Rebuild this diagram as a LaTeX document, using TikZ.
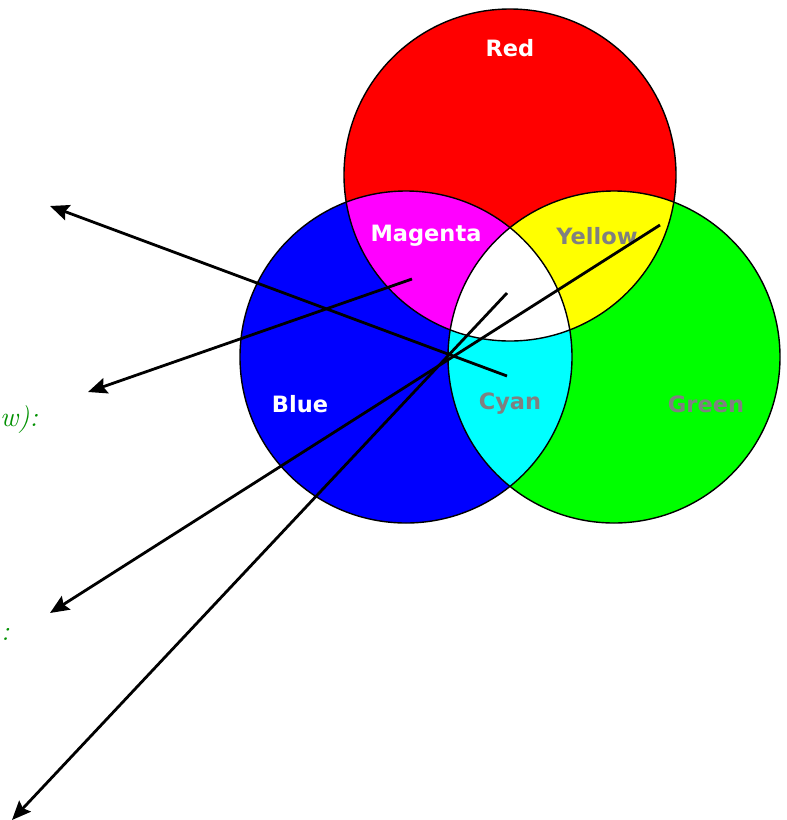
\documentclass[tikz,border=0pt]{standalone}
\usepackage{fontspec}
\newfontfamily\lbl{DejaVu Sans}
\usetikzlibrary{arrows.meta}
\definecolor{lblgray}{HTML}{808080}
\definecolor{cred}{HTML}{FF0000}
\definecolor{cblue}{HTML}{0000FF}
\definecolor{cgreen}{HTML}{00FF00}
\definecolor{cmag}{HTML}{FF00FF}
\definecolor{cyel}{HTML}{FFFF00}
\definecolor{ccya}{HTML}{00FFFF}
\definecolor{txtgreen}{HTML}{009000}
\tikzset{
  lab/.style={font=\lbl\bfseries\fontsize{22.5}{22.5}\selectfont, inner sep=0pt, anchor=center},
  ptr/.style={line width=2.8pt, -{Stealth[length=19pt,width=16pt,inset=3pt]}},
  cut/.style={font=\itshape\fontsize{28}{28}\selectfont, text=txtgreen, inner sep=0pt, anchor=base west},
  rim/.style={draw=black, line width=1.4pt}
}
\begin{document}
\begin{tikzpicture}[x=1pt,y=-1pt]
\useasboundingbox (0,0) rectangle (787,820);
\def\R{166}
\coordinate (cr) at (510,175);
\coordinate (cb) at (406,357);
\coordinate (cg) at (614,357);
% fills
\fill[cred] (cr) circle (\R);
\fill[cblue] (cb) circle (\R);
\fill[cgreen] (cg) circle (\R);
\begin{scope}\clip (cr) circle (\R); \fill[cmag] (cb) circle (\R); \end{scope}
\begin{scope}\clip (cr) circle (\R); \fill[cyel] (cg) circle (\R); \end{scope}
\begin{scope}\clip (cb) circle (\R); \fill[ccya] (cg) circle (\R); \end{scope}
\begin{scope}\clip (cr) circle (\R); \clip (cb) circle (\R); \fill[white] (cg) circle (\R); \end{scope}
\draw[rim] (cr) circle (\R);
\draw[rim] (cb) circle (\R);
\draw[rim] (cg) circle (\R);
% labels
\node[lab, text=white] (tred) at (510,48) {Red};
\node[lab, text=white] (tmag) at (426,236) {Magenta};
\node[lab, text=lblgray] (tyel) at (597,236) {Yellow};
\node[lab, text=white] (tblu) at (300,404) {Blue};
\node[lab, text=lblgray] (tcya) at (510,404) {Cyan};
\node[lab, text=lblgray] (tgrn) at (706,404) {Green};
% cut-off texts
\node[cut] (c1) at (0,426) {w):};
\node[cut] (c2) at (1,640) {:};
% arrows
\coordinate (s1) at (507,376); \coordinate (e1) at (50,206);
\coordinate (s2) at (412,279); \coordinate (e2) at (88,392);
\coordinate (s3) at (660,225); \coordinate (e3) at (50,613);
\coordinate (s4) at (507,293); \coordinate (e4) at (12,820);
\draw[ptr] (s1) -- (e1);
\draw[ptr] (s2) -- (e2);
\draw[ptr] (s3) -- (e3);
\draw[ptr] (s4) -- (e4);
\end{tikzpicture}
\end{document}
